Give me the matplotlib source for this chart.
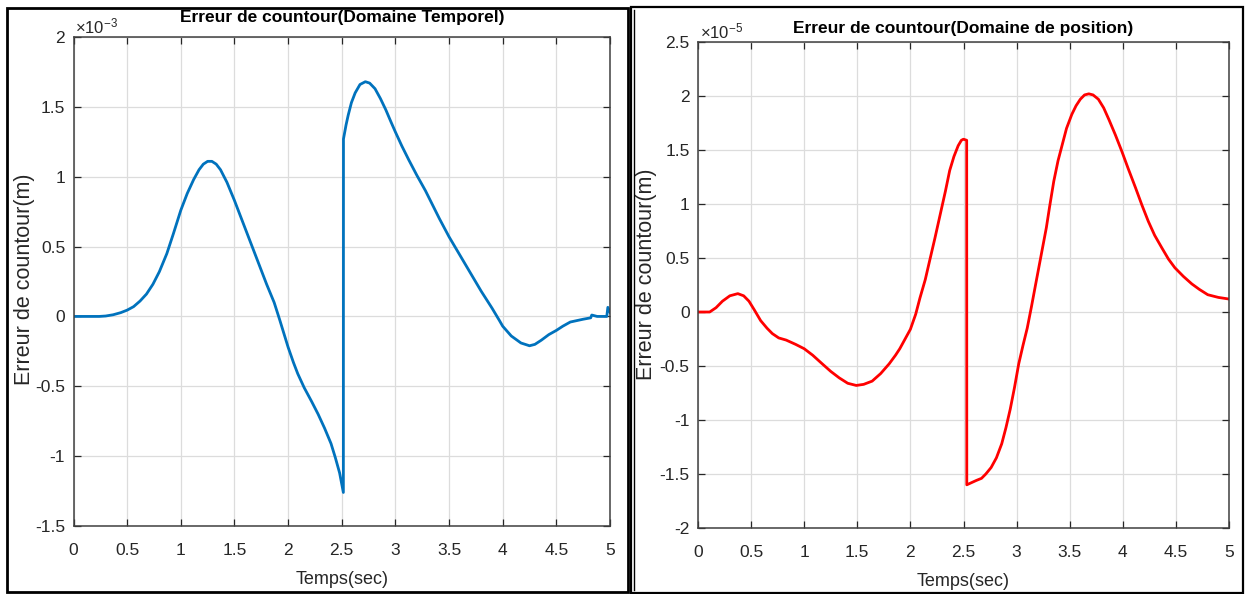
import matplotlib
matplotlib.use('Agg')
import matplotlib.pyplot as plt
from matplotlib.ticker import FuncFormatter, MultipleLocator
from matplotlib.patches import Rectangle
from matplotlib.lines import Line2D

plt.rcParams['font.family'] = ['Liberation Sans', 'DejaVu Sans']
plt.rcParams['mathtext.fontset'] = 'custom'
plt.rcParams['mathtext.rm'] = 'Liberation Sans'

# erreur de contour, domaine temporel (x 1e-3 m)
t_temp = [0.0, 0.12, 0.24, 0.30, 0.37, 0.44, 0.5, 0.56, 0.62, 0.68, 0.74, 0.80,
          0.87, 0.93, 1.0, 1.06, 1.12, 1.17, 1.21, 1.25, 1.29, 1.33, 1.37, 1.43,
          1.5, 1.56, 1.62, 1.68, 1.74, 1.80, 1.87, 1.92, 1.96, 2.0, 2.05, 2.09,
          2.15, 2.22, 2.28, 2.34, 2.40, 2.44, 2.48, 2.515,
          2.516, 2.54, 2.56, 2.59, 2.625, 2.67, 2.72, 2.76, 2.81, 2.86, 2.91, 2.96,
          3.0, 3.06, 3.125, 3.2, 3.28, 3.41, 3.5, 3.6, 3.7, 3.8, 3.9, 3.97,
          4.0, 4.08, 4.17, 4.25, 4.30, 4.36, 4.43, 4.5, 4.56, 4.63, 4.69, 4.75,
          4.82, 4.83, 4.88, 4.97, 4.98, 5.0]
e_temp = [0.0, 0.0, 0.0, 0.003, 0.012, 0.027, 0.045, 0.07, 0.11, 0.16, 0.23, 0.32,
          0.45, 0.59, 0.76, 0.88, 0.98, 1.05, 1.09, 1.11, 1.11, 1.09, 1.05, 0.96,
          0.83, 0.71, 0.59, 0.47, 0.35, 0.23, 0.10, -0.02, -0.12, -0.22, -0.33, -0.41,
          -0.51, -0.61, -0.70, -0.80, -0.91, -1.01, -1.12, -1.26,
          1.27, 1.37, 1.44, 1.53, 1.60, 1.66, 1.68, 1.67, 1.63, 1.56, 1.48, 1.39,
          1.32, 1.22, 1.12, 1.01, 0.90, 0.70, 0.57, 0.44, 0.31, 0.18, 0.06, -0.03,
          -0.07, -0.14, -0.19, -0.21, -0.20, -0.17, -0.13, -0.10, -0.07, -0.04, -0.03, -0.02,
          -0.01, 0.01, 0.0, 0.0, 0.065, 0.03]

# erreur de contour, domaine de position (x 1e-5 m)
t_pos = [0.0, 0.11, 0.17, 0.23, 0.30, 0.375, 0.43, 0.48, 0.53, 0.59, 0.65, 0.70,
         0.76, 0.83, 0.92, 1.0, 1.08, 1.17, 1.25, 1.33, 1.41, 1.49, 1.56, 1.64,
         1.72, 1.80, 1.86, 1.90, 1.95, 2.0, 2.05, 2.09, 2.14, 2.18, 2.23, 2.28,
         2.33, 2.37, 2.41, 2.45, 2.48, 2.50, 2.53,
         2.531, 2.62, 2.67, 2.71, 2.76, 2.81, 2.86, 2.90, 2.94, 2.98, 3.02, 3.06,
         3.10, 3.14, 3.18, 3.23, 3.28, 3.31, 3.35, 3.39, 3.43, 3.47, 3.52, 3.56,
         3.60, 3.64, 3.68, 3.72, 3.77, 3.82, 3.87, 3.93, 3.99, 4.05, 4.12, 4.18,
         4.24, 4.30, 4.37, 4.43, 4.49, 4.57, 4.65, 4.72, 4.80, 4.90, 5.0]
e_pos = [0.0, 0.0, 0.04, 0.10, 0.15, 0.17, 0.15, 0.10, 0.02, -0.08, -0.15, -0.20,
         -0.24, -0.26, -0.30, -0.34, -0.40, -0.48, -0.55, -0.61, -0.66, -0.68, -0.67, -0.64,
         -0.57, -0.48, -0.40, -0.34, -0.25, -0.16, -0.02, 0.13, 0.30, 0.47, 0.68, 0.90,
         1.12, 1.31, 1.44, 1.54, 1.59, 1.60, 1.59,
         -1.60, -1.56, -1.54, -1.50, -1.44, -1.35, -1.22, -1.07, -0.90, -0.70, -0.48, -0.31,
         -0.15, 0.05, 0.26, 0.52, 0.78, 0.97, 1.21, 1.40, 1.55, 1.70, 1.83, 1.91,
         1.97, 2.01, 2.02, 2.01, 1.97, 1.89, 1.78, 1.64, 1.49, 1.33, 1.15, 0.99,
         0.84, 0.71, 0.59, 0.49, 0.41, 0.33, 0.26, 0.21, 0.16, 0.135, 0.12]

x_ticks = [0, 0.5, 1, 1.5, 2, 2.5, 3, 3.5, 4, 4.5, 5]

fig = plt.figure(figsize=(12.45, 5.94), dpi=100)
W, H = 1245.0, 594.0


def px_axes(x0, y0, x1, y1):
    return fig.add_axes([x0 / W, 1 - y1 / H, (x1 - x0) / W, (y1 - y0) / H])


def style(ax, ylim, scale, expo, title, title_y):
    ax.set_xlim(0, 5)
    ax.set_ylim(ylim[0] * scale, ylim[1] * scale)
    ax.set_xticks(x_ticks)
    ax.xaxis.set_major_formatter(FuncFormatter(lambda v, p: '%g' % v))
    ax.yaxis.set_major_locator(MultipleLocator(0.5 * scale))
    ax.yaxis.set_major_formatter(FuncFormatter(lambda v, p: '%g' % round(v / scale, 3)))
    ax.grid(True, color='#dcdcdc', lw=0.9)
    ax.set_axisbelow(True)
    ax.tick_params(direction='in', length=5, width=0.9, top=True, right=True,
                   labelsize=12.5, colors='#262626')
    ax.tick_params(axis='x', pad=12.5)
    ax.tick_params(axis='y', pad=6)
    for s in ax.spines.values():
        s.set_color('#404040')
        s.set_linewidth(1.1)
    ax.set_xlabel('Temps(sec)', fontsize=13, color='#262626')
    ax.xaxis.set_label_coords(0.5, -0.093)
    ax.set_ylabel('Erreur de countour(m)', fontsize=15.5, color='#262626')
    ax.set_title(title, fontsize=12.5, fontweight='bold', pad=0, y=title_y,
                 va='center', color='black')
    ax.text(0.003, 1.022, r'$\mathregular{\times10^{%d}}$' % expo, transform=ax.transAxes,
            fontsize=12, color='#262626', ha='left', va='center')


ax1 = px_axes(73.5, 37, 610, 526)
ax1.plot(t_temp, [v * 1e-3 for v in e_temp], color='#0072BD', lw=2.0,
         solid_joinstyle='round')
style(ax1, (-1.5, 2.0), 1e-3, -3, 'Erreur de countour(Domaine Temporel)', 1.039)
ax1.yaxis.set_label_coords(-0.0715, 0.505)

ax2 = px_axes(698, 42, 1229, 528)
ax2.plot(t_pos, [v * 1e-5 for v in e_pos], color='#FF0000', lw=2.0,
         solid_joinstyle='round')
style(ax2, (-2.0, 2.5), 1e-5, -5, 'Erreur de countour(Domaine de position)', 1.027)
ax2.yaxis.set_label_coords(-0.077, 0.523)

# panel frames
fig.patches.append(Rectangle((7 / W, 1 - 592 / H), 621 / W, 584 / H, transform=fig.transFigure,
                             fill=False, ec='black', lw=2.0))
fig.patches.append(Rectangle((631 / W, 1 - 593 / H), 612 / W, 586 / H, transform=fig.transFigure,
                             fill=False, ec='black', lw=1.6))
fig.lines.append(Line2D([634 / W, 634 / W], [1 - 590 / H, 1 - 10 / H], transform=fig.transFigure,
                        color='black', lw=1.0))

fig.savefig('out.png', dpi=100)
